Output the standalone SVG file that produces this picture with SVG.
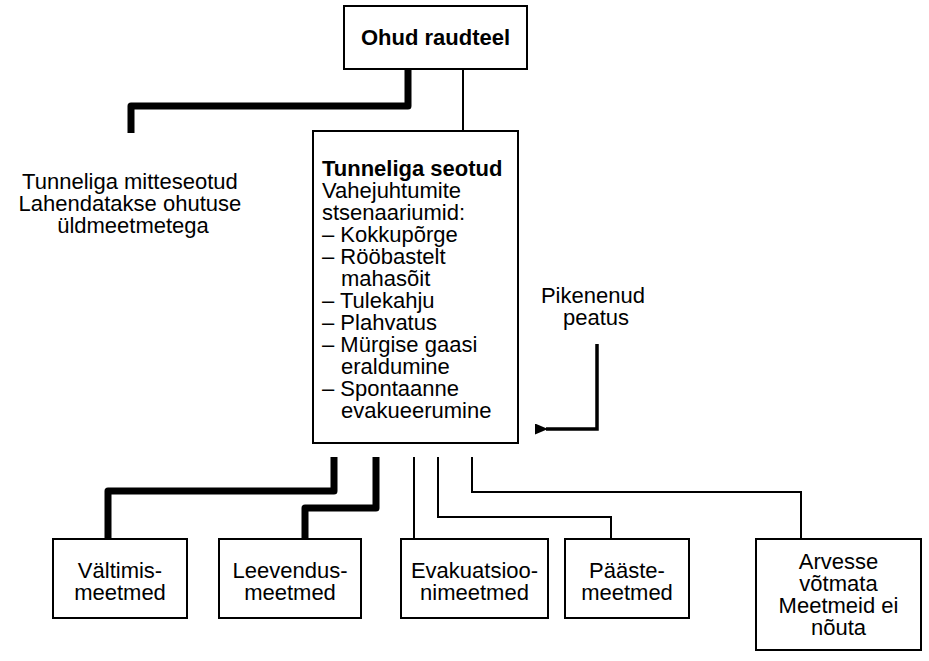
<svg xmlns="http://www.w3.org/2000/svg" width="929" height="661" viewBox="0 0 929 661">
<style>
.box{fill:#fff;stroke:#000;stroke-width:2}
.t{font-family:"Liberation Sans",Arial,sans-serif;font-size:22px;fill:#000}
.c{text-anchor:middle}
.thick{fill:none;stroke:#000;stroke-width:7;stroke-linejoin:round}
.thin{fill:none;stroke:#000;stroke-width:2}
.arr{fill:none;stroke:#000;stroke-width:3.5}
</style>
<defs>
<marker id="ah" markerWidth="13" markerHeight="11" refX="2" refY="5.5" orient="auto" markerUnits="userSpaceOnUse">
<path d="M13,0 L0,5.5 L13,11 Z" fill="#000"/>
</marker>
</defs>
<g id="connectors">
<path class="thick" d="M408,69 V106 H131 V133"/>
<path class="thin" d="M463,69 V131"/>
<path class="thick" d="M334,457 V491 H108 V539"/>
<path class="thick" d="M376,457 V508 H305 V539"/>
<path class="thin" d="M414,457 V539"/>
<path class="thin" d="M438,457 V517 H611 V539"/>
<path class="thin" d="M472,457 V492 H801 V539"/>
<path class="arr" d="M597,344 V429 H546" marker-end="url(#ah)"/>
</g>
<g id="ohud">
<rect class="box" x="344" y="6" width="183" height="63"/>
<text class="t c" x="435.5" y="45" font-weight="bold">Ohud raudteel</text>
</g>
<g id="tunnel">
<rect class="box" x="313" y="131" width="205" height="312"/>
<text class="t" x="322" y="176" font-weight="bold">Tunneliga seotud</text>
<text class="t">
<tspan x="322" y="198">Vahejuhtumite</tspan>
<tspan x="322" y="220">stsenaariumid:</tspan>
<tspan x="322" y="242">– Kokkupõrge</tspan>
<tspan x="322" y="264">– Rööbastelt</tspan>
<tspan x="341" y="286">mahasõit</tspan>
<tspan x="322" y="308">– Tulekahju</tspan>
<tspan x="322" y="330">– Plahvatus</tspan>
<tspan x="322" y="352">– Mürgise gaasi</tspan>
<tspan x="341" y="374">eraldumine</tspan>
<tspan x="322" y="396">– Spontaanne</tspan>
<tspan x="341" y="418">evakueerumine</tspan>
</text>
</g>
<g id="mitteseotud">
<text class="t c">
<tspan x="133" y="189">Tunneliga mitteseotud</tspan>
<tspan x="133" y="211">Lahendatakse ohutuse</tspan>
<tspan x="133" y="233">üldmeetmetega</tspan>
</text>
</g>
<g id="pikenenud">
<text class="t c">
<tspan x="596" y="303">Pikenenud</tspan>
<tspan x="596" y="325">peatus</tspan>
</text>
</g>
<g id="valtimis">
<rect class="box" x="53" y="539" width="134" height="79"/>
<text class="t c"><tspan x="120" y="578">Vältimis-</tspan><tspan x="120" y="600">meetmed</tspan></text>
</g>
<g id="leevendus">
<rect class="box" x="219" y="539" width="142" height="79"/>
<text class="t c"><tspan x="290" y="578">Leevendus-</tspan><tspan x="290" y="600">meetmed</tspan></text>
</g>
<g id="evakuatsioon">
<rect class="box" x="401" y="539" width="147" height="79"/>
<text class="t c"><tspan x="474.5" y="578">Evakuatsioo-</tspan><tspan x="474.5" y="600">nimeetmed</tspan></text>
</g>
<g id="paaste">
<rect class="box" x="565" y="539" width="124" height="79"/>
<text class="t c"><tspan x="627" y="578">Pääste-</tspan><tspan x="627" y="600">meetmed</tspan></text>
</g>
<g id="arvesse">
<rect class="box" x="756" y="539" width="165" height="111"/>
<text class="t c"><tspan x="838.5" y="569">Arvesse</tspan><tspan x="838.5" y="591">võtmata</tspan><tspan x="838.5" y="613">Meetmeid ei</tspan><tspan x="838.5" y="635">nõuta</tspan></text>
</g>
</svg>
